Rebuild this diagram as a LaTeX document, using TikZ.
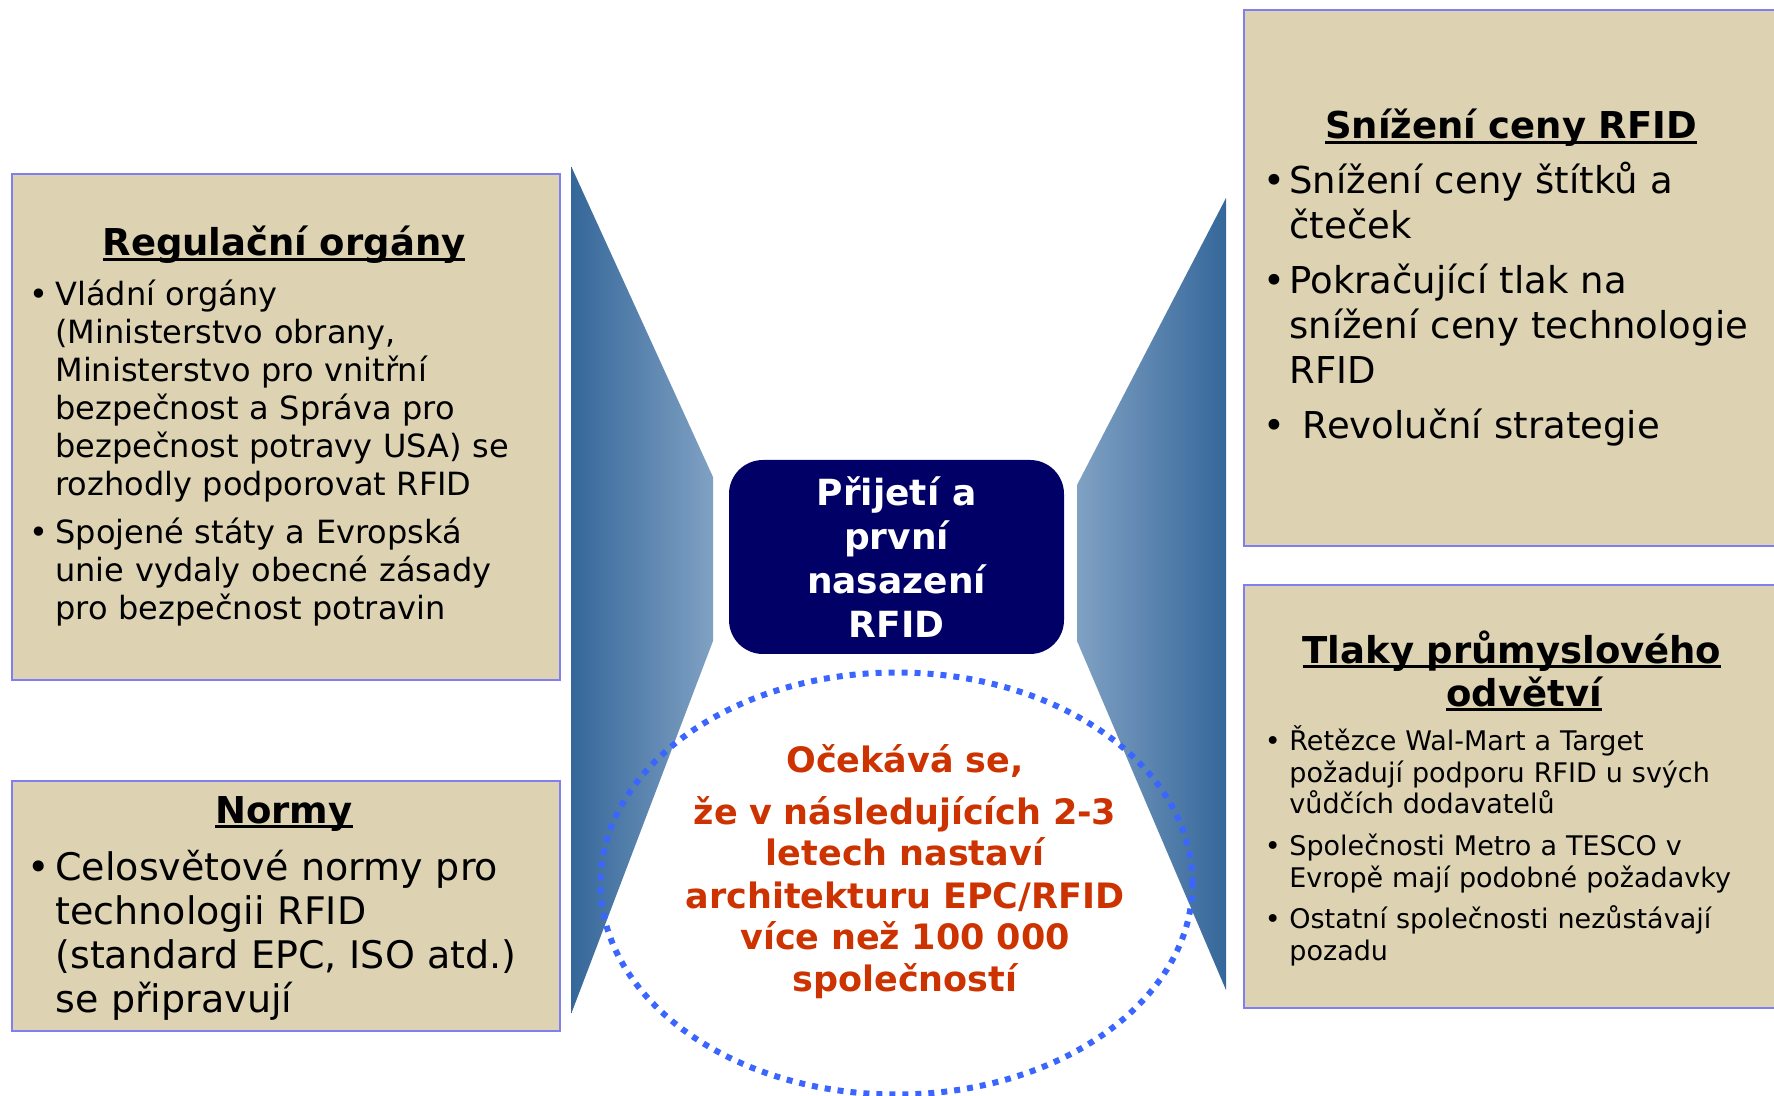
\documentclass[tikz,border=0pt]{standalone}
\usepackage{fontspec}
\setmainfont{DejaVu Sans}
\usetikzlibrary{positioning}

\definecolor{panelfill}{HTML}{DDD3B3}
\definecolor{panelline}{HTML}{7F7FEF}
\definecolor{navy}{HTML}{000066}
\definecolor{rust}{HTML}{CC3300}
\definecolor{dotblue}{HTML}{3A66FF}
\definecolor{wingdark}{HTML}{35679A}
\definecolor{winglight}{HTML}{80A1C3}

% underlined heading, rule through the descenders
\newcommand{\uln}[1]{\leavevmode\setbox0\hbox{#1}\rlap{\rule[-0.13em]{\wd0}{0.075em}}\box0}
% hanging bullet, #1 = gap to the text
\newcommand{\bul}[1][3pt]{\leavevmode\llap{•\hspace{#1}}}

\begin{document}
\begin{tikzpicture}[x=0.5pt,y=-0.5pt,
  panel/.style={draw=panelline, line width=1pt, fill=panelfill, inner sep=0pt, anchor=north west},
  heading/.style={font=\fontsize{18.5}{22}\selectfont\bfseries, anchor=base, inner sep=0pt, text width=270pt, align=center},
  body/.style={anchor=base west, inner sep=0pt, text width=260pt, align=left},
  hub/.style={fill=navy, rounded corners=17pt, minimum width=167.5pt, minimum height=97pt, text=white,
    font=\fontsize{18}{22}\selectfont\bfseries, align=center, inner sep=0pt},
  ring/.style={draw=dotblue, line width=3pt, dash pattern=on 3pt off 3.5pt}]
\useasboundingbox (0,0) rectangle (1774,1096);
\clip (0,0) rectangle (1774,1096);

% wings
\shade[left color=wingdark, right color=winglight] (571.5,167) -- (713,477) -- (713,641) -- (571.5,1013) -- cycle;
\shade[left color=winglight, right color=wingdark] (1226,198) -- (1077,485) -- (1077,641) -- (1226,990) -- cycle;

% panels
\node[panel, minimum width=274pt, minimum height=253pt] (regbox) at (11,173) {};
\node[panel, minimum width=274pt, minimum height=125pt] (normbox) at (11,780) {};
\node[panel, minimum width=280pt, minimum height=268pt] (costbox) at (1243,9) {};
\node[panel, minimum width=280pt, minimum height=211.5pt] (indbox) at (1243,584) {};

% regulacni organy
\node[heading] (regtitle) at (284,256) {\uln{Regulační orgány}};
\node[body, font=\fontsize{16}{19}\selectfont] (regtext) at (55,306) {%
\bul[3.6pt]Vládní orgány\\(Ministerstvo obrany,\\Ministerstvo pro vnitřní\\bezpečnost a Správa pro\\bezpečnost potravy USA) se\\rozhodly podporovat RFID\par\vspace{5pt}
\bul[3.6pt]Spojené státy a Evropská\\unie vydaly obecné zásady\\pro bezpečnost potravin};

% normy
\node[heading] (normtitle) at (284,823) {\uln{Normy}};
\node[body, font=\fontsize{19}{22}\selectfont] (normtext) at (55,880) {%
\bul[2.7pt]Celosvětové normy pro\\technologii RFID\\(standard EPC, ISO atd.)\\se připravují};

% snizeni ceny
\node[heading] (costtitle) at (1511,139) {\uln{Snížení ceny RFID}};
\node[body, font=\fontsize{18.5}{22.5}\selectfont] (costtext) at (1289,194) {%
\bul[2.2pt]Snížení ceny štítků a\\čteček\par\vspace{5pt}
\bul[2.2pt]Pokračující tlak na\\snížení ceny technologie\\RFID\par\vspace{5pt}
\hspace*{6.8pt}\bul[9pt]Revoluční strategie};

% tlaky
\node[heading, font=\fontsize{18.5}{21.5}\selectfont\bfseries] (indtitle) at (1512,663) {\uln{Tlaky průmyslového}\par\hspace*{12pt}\uln{odvětví}};
\node[body, font=\fontsize{13.5}{16}\selectfont] (indtext) at (1289,750) {%
\bul[4.3pt]Řetězce Wal-Mart a Target\\požadují podporu RFID u svých\\vůdčích dodavatelů\par\vspace{4.5pt}
\bul[4.3pt]Společnosti Metro a TESCO v\\Evropě mají podobné požadavky\par\vspace{4.5pt}
\bul[4.3pt]Ostatní společnosti nezůstávají\\pozadu};

% center
\node[hub] (hub) at (896.5,557) {Přijetí a\\první\\nasazení\\RFID};
\draw[ring] (896.5,883.5) ellipse [x radius=148pt, y radius=105.5pt];
\node[anchor=base, inner sep=0pt, text width=240pt, align=center, text=rust,
  font=\fontsize{17.5}{21}\selectfont\bfseries] (forecast) at (905,772) {%
Očekává se,\\[5pt]že v následujících 2-3\\letech nastaví\\architekturu EPC/RFID\\více než 100 000\\společností};
\end{tikzpicture}
\end{document}
